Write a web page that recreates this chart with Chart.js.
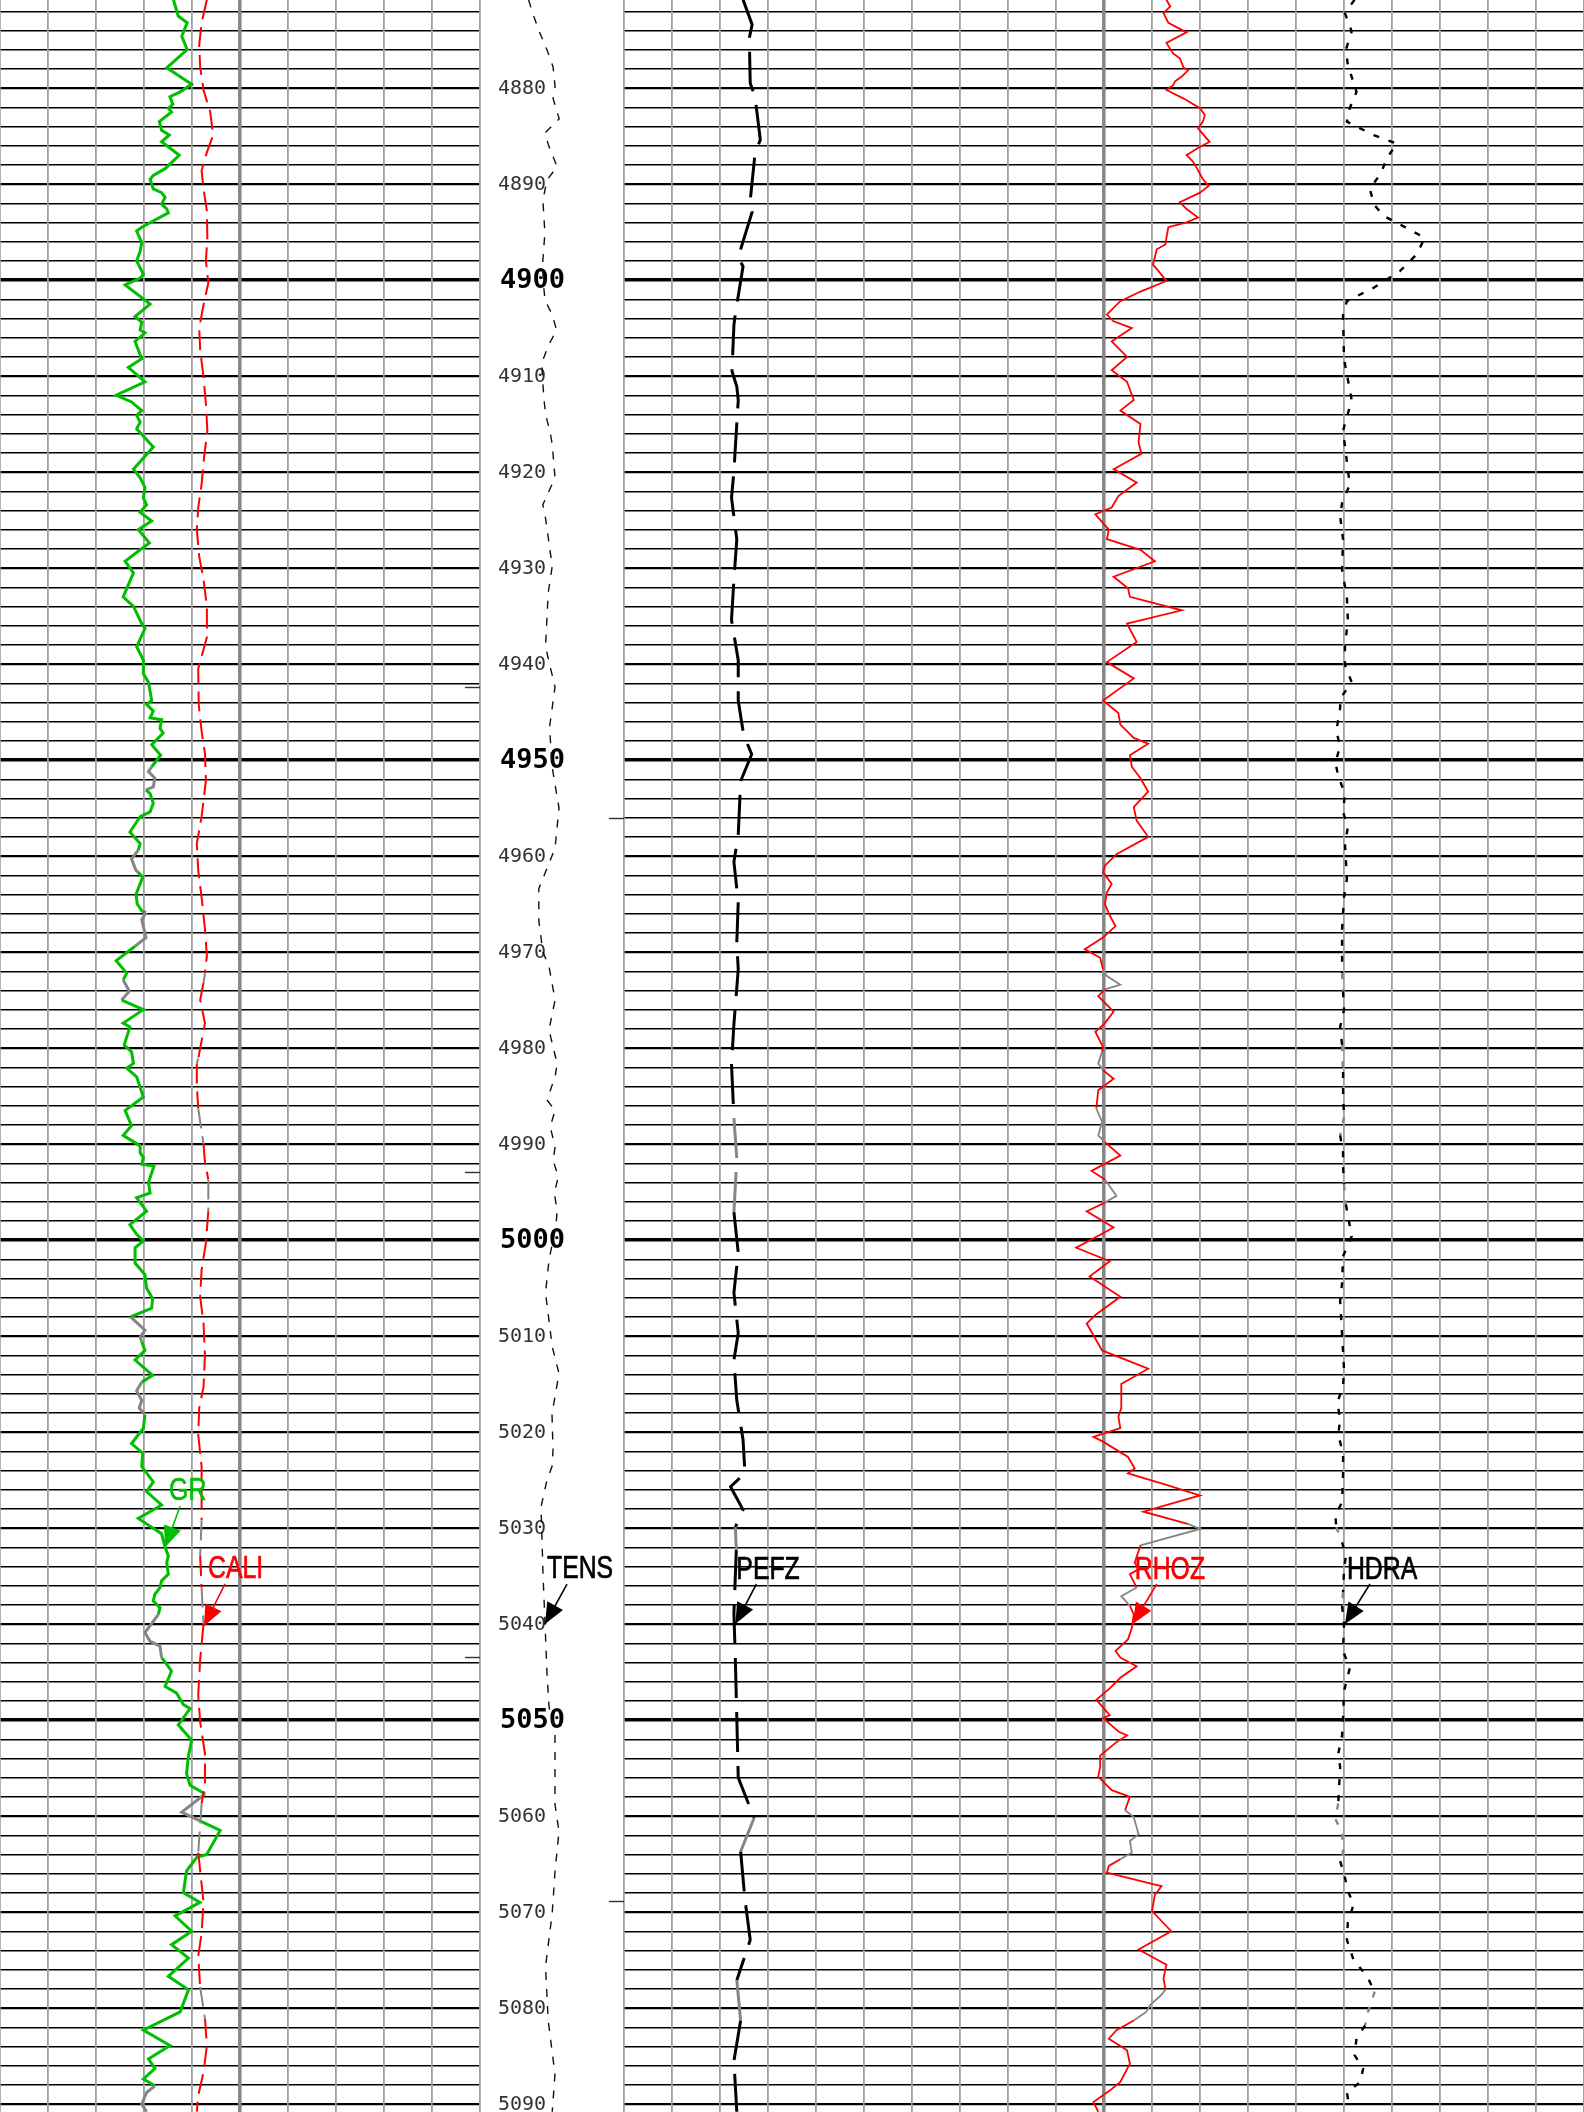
<!DOCTYPE html>
<html>
<head>
<meta charset="utf-8">
<script src="https://cdn.jsdelivr.net/npm/chart.js@4.4.1/dist/chart.umd.min.js"></script>
<style>
  html, body { margin: 0; padding: 0; background: #fff; }
  #wrap { position: relative; width: 1584px; height: 2112px; overflow: hidden; background: #fff; }
  canvas { position: absolute; top: 0; }
</style>
</head>
<body>
<div id="wrap">
  <canvas id="leftTrack" width="480" height="2112" style="left:0px"></canvas>
  <canvas id="depthTrack" width="144" height="2112" style="left:480px"></canvas>
  <canvas id="rightTrack" width="960" height="2112" style="left:624px"></canvas>
</div>
<script>
// depth window (ft)
const depthTop = 4870.83;
const depthBottom = 5090.83;
const depthLabels = [4880, 4890, 4900, 4910, 4920, 4930, 4940, 4950, 4960, 4970, 4980, 4990,
  5000, 5010, 5020, 5030, 5040, 5050, 5060, 5070, 5080, 5090];

// GR (gAPI)
const grDepth = [4870.8, 4872.5, 4873.2, 4874.6, 4876.0, 4877.9, 4879.6, 4880.4, 4880.9, 4881.7, 4882.1, 4882.5,
  4883.5, 4884.4, 4884.9, 4885.6, 4887.0, 4888.4, 4889.1, 4889.5, 4890.5, 4890.9, 4891.4, 4892.1, 4892.6, 4893.0,
  4894.5, 4894.9, 4896.1, 4897.0, 4898.0, 4899.4, 4899.8, 4900.5, 4902.5, 4903.8, 4904.4, 4905.2, 4905.5, 4906.4,
  4908.2, 4909.1, 4910.6, 4912.0, 4912.7, 4913.6, 4914.1, 4914.8, 4915.5, 4917.4, 4919.7, 4920.6, 4921.6, 4922.7,
  4923.4, 4924.2, 4925.1, 4926.0, 4927.4, 4928.1, 4929.3, 4930.5, 4933.0, 4934.0, 4935.8, 4936.3, 4938.2, 4939.6,
  4941.0, 4941.9, 4943.8, 4944.2, 4944.9, 4945.6, 4945.8, 4946.7, 4947.2, 4948.4, 4949.5, 4950.7, 4951.2, 4951.9,
  4952.8, 4953.1, 4953.5, 4954.5, 4955.4, 4955.9, 4957.5, 4958.7, 4959.4, 4960.3, 4961.5, 4961.7, 4962.2, 4964.0,
  4965.0, 4965.7, 4965.9, 4966.6, 4968.5, 4969.4, 4970.9, 4972.2, 4972.9, 4974.1, 4975.0, 4976.0, 4977.4, 4977.8,
  4979.7, 4980.4, 4981.6, 4982.1, 4983.0, 4985.1, 4986.5, 4988.1, 4989.1, 4990.2, 4990.9, 4991.4, 4992.1, 4992.3,
  4994.0, 4995.1, 4995.6, 4997.0, 4998.4, 4999.4, 5000.1, 5000.8, 5002.4, 5003.6, 5005.0, 5006.1, 5007.1, 5008.0,
  5009.4, 5010.1, 5010.6, 5011.5, 5012.5, 5014.1, 5014.8, 5015.7, 5016.7, 5017.5, 5018.2, 5019.6, 5021.2, 5022.2,
  5023.6, 5025.2, 5026.2, 5027.6, 5029.0, 5030.6, 5032.0, 5032.9, 5033.6, 5034.8, 5035.5, 5036.2, 5036.9, 5037.6,
  5038.3, 5039.0, 5040.9, 5041.8, 5042.3, 5043.5, 5044.2, 5044.9, 5046.5, 5047.2, 5048.4, 5048.8, 5050.5, 5052.1,
  5053.7, 5055.6, 5056.8, 5057.7, 5059.6, 5060.5, 5061.5, 5064.0, 5064.3, 5065.7, 5068.0, 5069.0, 5070.4, 5072.0,
  5073.4, 5074.8, 5076.7, 5078.1, 5080.4, 5082.3, 5083.9, 5085.3, 5086.3, 5087.4, 5088.1, 5088.8, 5090.0, 5090.8];
const grValue = [54.2, 55.7, 58.5, 56.8, 58.5, 52.1, 59.9, 56.3, 53.1, 54.0, 52.6, 53.6,
  49.8, 50.5, 52.9, 50.5, 56.0, 51.6, 47.9, 46.9, 47.9, 50.5, 51.6, 50.5, 52.1, 52.6,
  44.3, 42.7, 44.3, 43.8, 42.7, 44.8, 43.8, 39.1, 46.9, 42.2, 44.3, 43.8, 45.3, 42.2,
  44.3, 40.1, 45.3, 36.3, 41.1, 44.3, 42.7, 43.8, 42.7, 47.9, 41.7, 43.8, 45.3, 44.8,
  45.8, 43.8, 47.4, 43.2, 46.7, 43.8, 39.1, 41.7, 38.5, 41.7, 44.3, 45.3, 42.7, 44.8,
  44.8, 46.4, 47.4, 45.8, 47.9, 46.9, 50.5, 50.0, 51.0, 47.4, 50.2, 47.4, 46.4, 48.4,
  47.9, 45.6, 46.9, 47.9, 46.9, 43.8, 40.6, 43.8, 43.2, 41.1, 42.5, 43.2, 44.6, 42.5,
  42.9, 44.3, 45.6, 44.3, 45.6, 42.2, 36.3, 39.6, 38.5, 40.4, 38.0, 44.8, 38.5, 40.6,
  38.8, 41.1, 41.7, 39.6, 42.7, 44.8, 39.1, 41.1, 38.5, 43.8, 43.8, 44.8, 44.3, 48.1,
  46.4, 46.9, 42.7, 45.8, 40.6, 42.7, 44.8, 42.2, 42.2, 45.3, 45.8, 47.7, 47.4, 40.8,
  45.3, 43.8, 44.3, 45.3, 42.2, 47.7, 44.3, 42.7, 44.3, 43.5, 45.3, 44.8, 41.1, 44.6,
  44.3, 47.9, 45.8, 50.5, 43.2, 50.5, 51.6, 52.6, 52.1, 52.6, 50.5, 50.0, 48.4, 47.9,
  50.0, 49.5, 45.3, 46.9, 50.0, 50.5, 52.1, 53.6, 51.6, 55.2, 57.3, 59.4, 55.7, 59.9,
  58.9, 58.3, 59.4, 64.1, 56.8, 62.5, 68.8, 64.6, 61.5, 58.3, 57.3, 62.5, 54.7, 59.9,
  53.6, 58.9, 52.6, 58.9, 56.3, 44.8, 53.1, 46.4, 48.4, 44.8, 48.4, 45.8, 44.3, 45.8];

// CALI (in)
const caliDepth = [4870.8, 4873.2, 4875.5, 4877.8, 4880.2, 4882.5, 4884.9, 4886.7, 4888.6, 4890.5, 4892.8, 4895.6,
  4898.0, 4900.3, 4902.6, 4905.0, 4907.3, 4910.1, 4912.9, 4915.7, 4918.5, 4921.3, 4923.7, 4926.0, 4928.8, 4931.2,
  4934.0, 4937.2, 4940.5, 4944.2, 4947.0, 4949.3, 4952.1, 4955.9, 4958.7, 4961.5, 4964.3, 4967.6, 4970.4, 4972.2,
  4973.2, 4975.0, 4977.4, 4981.1, 4981.6, 4983.9, 4986.3, 4990.0, 4991.9, 4993.7, 4997.0, 5000.3, 5003.1, 5005.9,
  5008.7, 5012.0, 5015.3, 5017.5, 5020.3, 5023.6, 5026.4, 5029.2, 5032.9, 5036.2, 5040.0, 5043.7, 5047.4, 5050.2,
  5053.5, 5056.8, 5058.7, 5061.0, 5063.8, 5067.1, 5069.0, 5072.2, 5074.6, 5077.8, 5081.1, 5083.9, 5086.7, 5089.1, 5090.8];
const caliValue = [10.31, 10.20, 10.15, 10.17, 10.24, 10.38, 10.44, 10.31, 10.20, 10.24, 10.31, 10.32,
  10.29, 10.34, 10.24, 10.15, 10.17, 10.24, 10.29, 10.32, 10.25, 10.20, 10.13, 10.10, 10.15, 10.24,
  10.31, 10.31, 10.13, 10.14, 10.20, 10.27, 10.29, 10.20, 10.10, 10.13, 10.20, 10.27, 10.31, 10.27,
  10.24, 10.17, 10.27, 10.13, 10.10, 10.10, 10.13, 10.24, 10.27, 10.34, 10.34, 10.29, 10.20, 10.17,
  10.24, 10.27, 10.24, 10.15, 10.13, 10.20, 10.20, 10.20, 10.17, 10.20, 10.24, 10.17, 10.13, 10.17,
  10.27, 10.27, 10.20, 10.17, 10.13, 10.20, 10.24, 10.20, 10.13, 10.17, 10.27, 10.31, 10.24, 10.13, 10.10];

// TENS (lbf)
const tensDepth = [4870.8, 4872.2, 4874.0, 4876.0, 4877.8, 4879.9, 4881.1, 4883.2, 4884.7, 4886.1, 4888.2, 4889.6,
  4891.7, 4895.1, 4897.9, 4900.0, 4902.1, 4903.5, 4905.2, 4906.9, 4908.7, 4910.4, 4912.5, 4914.2, 4915.8, 4917.1,
  4920.6, 4923.4, 4924.8, 4929.8, 4932.6, 4938.2, 4942.4, 4946.6, 4950.8, 4955.0, 4959.2, 4963.4, 4966.7, 4970.0,
  4971.5, 4975.0, 4976.0, 4978.1, 4979.9, 4981.6, 4983.0, 4985.4, 4986.5, 4988.2, 4990.3, 4991.7, 4993.4, 4995.1,
  4996.9, 4998.6, 5002.0, 5005.5, 5011.1, 5013.9, 5018.1, 5021.9, 5023.6, 5025.0, 5027.8, 5031.2, 5034.7, 5039.9,
  5045.1, 5048.6, 5051.4, 5058.8, 5061.6, 5065.8, 5070.1, 5075.7, 5081.3, 5086.9, 5090.8];
const tensValue = [1687, 1830, 2042, 2323, 2538, 2608, 2538, 2750, 2253, 2396, 2677, 2323,
  2184, 2253, 2184, 2190, 2257, 2489, 2662, 2361, 2141, 2176, 2222, 2292, 2431, 2508,
  2604, 2182, 2275, 2508, 2368, 2275, 2604, 2415, 2508, 2743, 2604, 2042, 2041, 2183,
  2396, 2608, 2538, 2396, 2538, 2678, 2608, 2324, 2608, 2437, 2608, 2538, 2720, 2580,
  2678, 2636, 2400, 2275, 2508, 2743, 2500, 2535, 2500, 2326, 2118, 2153, 2187, 2257,
  2326, 2396, 2604, 2604, 2743, 2604, 2508, 2275, 2368, 2604, 2508];

// PEFZ (b/e)
const pefzDepth = [4870.8, 4873.4, 4874.8, 4879.5, 4880.9, 4885.4, 4886.8, 4891.7, 4892.9, 4897.6, 4898.6, 4903.5,
  4904.7, 4909.5, 4911.1, 4912.5, 4919.9, 4922.7, 4927.0, 4931.2, 4935.4, 4939.6, 4943.8, 4947.3, 4949.4, 4952.2,
  4957.8, 4960.6, 4964.8, 4969.0, 4971.8, 4977.5, 4981.7, 4987.3, 4991.5, 4997.1, 5001.3, 5005.5, 5009.7, 5012.5,
  5016.7, 5020.8, 5024.3, 5025.7, 5028.1, 5029.9, 5032.3, 5038.9, 5043.7, 5049.7, 5056.0, 5060.2, 5063.7, 5068.7,
  5072.9, 5077.1, 5081.3, 5085.5, 5090.8];
const pefzValue = [2.48, 2.67, 2.61, 2.63, 2.73, 2.84, 2.73, 2.63, 2.67, 2.38, 2.48, 2.32,
  2.29, 2.25, 2.35, 2.38, 2.29, 2.24, 2.35, 2.29, 2.24, 2.38, 2.38, 2.49, 2.66, 2.43,
  2.38, 2.29, 2.38, 2.35, 2.38, 2.29, 2.24, 2.29, 2.35, 2.29, 2.38, 2.29, 2.38, 2.29,
  2.35, 2.48, 2.52, 2.22, 2.48, 2.32, 2.34, 2.29, 2.32, 2.35, 2.38, 2.71, 2.43, 2.52,
  2.63, 2.35, 2.43, 2.29, 2.35];

// RHOZ (g/cm3)
const rhozDepth = [4870.8, 4871.5, 4872.2, 4873.2, 4874.2, 4875.3, 4876.4, 4876.9, 4877.9, 4878.1, 4878.8, 4879.3,
  4879.7, 4880.2, 4881.1, 4882.1, 4882.8, 4883.5, 4884.2, 4885.6, 4886.3, 4887.0, 4887.7, 4888.4, 4889.5, 4890.2,
  4890.9, 4891.9, 4892.6, 4893.5, 4894.0, 4894.5, 4895.6, 4896.3, 4896.8, 4898.4, 4899.1, 4900.1, 4901.2, 4902.2,
  4903.6, 4904.3, 4905.0, 4906.4, 4908.0, 4909.4, 4910.6, 4912.5, 4913.6, 4915.0, 4916.9, 4918.1, 4919.7, 4921.1,
  4922.5, 4923.7, 4924.4, 4926.0, 4927.0, 4928.1, 4929.3, 4930.9, 4932.1, 4933.0, 4934.4, 4935.8, 4937.7, 4939.8,
  4941.5, 4943.8, 4945.1, 4946.3, 4947.7, 4948.3, 4949.5, 4950.7, 4951.9, 4953.3, 4954.9, 4956.3, 4958.0, 4959.8,
  4961.0, 4961.7, 4962.9, 4963.8, 4965.0, 4966.2, 4967.3, 4968.5, 4969.7, 4970.6, 4971.8, 4972.5, 4973.4, 4973.9,
  4974.6, 4976.2, 4977.4, 4978.3, 4979.9, 4980.4, 4981.6, 4982.3, 4983.2, 4984.4, 4986.3, 4987.7, 4989.1, 4989.8,
  4991.2, 4992.8, 4993.7, 4995.4, 4996.1, 4997.0, 4998.7, 5000.8, 5002.2, 5003.8, 5005.9, 5007.8, 5008.7, 5011.5,
  5013.4, 5015.0, 5017.5, 5018.4, 5019.6, 5020.5, 5021.0, 5022.6, 5023.8, 5024.3, 5025.5, 5026.6, 5028.3, 5029.6,
  5030.1, 5031.8, 5033.6, 5034.3, 5034.8, 5036.2, 5037.1, 5038.1, 5039.0, 5040.4, 5041.6, 5042.8, 5043.5, 5044.4,
  5045.6, 5046.7, 5047.9, 5049.5, 5049.8, 5051.2, 5051.6, 5052.3, 5053.7, 5054.9, 5055.9, 5057.3, 5058.0, 5059.4,
  5060.1, 5061.9, 5062.6, 5063.8, 5064.5, 5065.2, 5065.9, 5067.1, 5067.3, 5068.2, 5069.9, 5072.0, 5073.9, 5075.5,
  5076.9, 5078.1, 5078.8, 5079.7, 5080.4, 5081.3, 5082.3, 5083.2, 5084.4, 5085.8, 5087.7, 5088.6, 5089.8, 5090.8];
const rhozValue = [2.515, 2.519, 2.512, 2.517, 2.536, 2.515, 2.522, 2.529, 2.533, 2.538, 2.531, 2.524,
  2.522, 2.515, 2.533, 2.550, 2.555, 2.553, 2.548, 2.560, 2.547, 2.536, 2.543, 2.547, 2.553, 2.559,
  2.550, 2.529, 2.536, 2.548, 2.536, 2.517, 2.515, 2.514, 2.505, 2.501, 2.507, 2.515, 2.488, 2.467,
  2.453, 2.460, 2.479, 2.458, 2.474, 2.458, 2.474, 2.481, 2.467, 2.488, 2.486, 2.489, 2.460, 2.484,
  2.465, 2.458, 2.441, 2.455, 2.453, 2.488, 2.503, 2.460, 2.475, 2.477, 2.531, 2.474, 2.484, 2.453,
  2.481, 2.449, 2.465, 2.467, 2.481, 2.496, 2.477, 2.479, 2.488, 2.496, 2.481, 2.484, 2.496, 2.463,
  2.451, 2.449, 2.458, 2.453, 2.451, 2.456, 2.462, 2.449, 2.430, 2.446, 2.449, 2.453, 2.467, 2.451,
  2.444, 2.460, 2.451, 2.441, 2.449, 2.448, 2.444, 2.449, 2.460, 2.444, 2.442, 2.448, 2.444, 2.451,
  2.467, 2.437, 2.451, 2.463, 2.451, 2.432, 2.460, 2.421, 2.456, 2.435, 2.467, 2.441, 2.432, 2.448,
  2.496, 2.468, 2.468, 2.465, 2.467, 2.439, 2.449, 2.475, 2.482, 2.475, 2.515, 2.550, 2.491, 2.538,
  2.550, 2.488, 2.482, 2.486, 2.477, 2.484, 2.468, 2.477, 2.481, 2.479, 2.475, 2.462, 2.467, 2.484,
  2.467, 2.456, 2.442, 2.456, 2.449, 2.465, 2.474, 2.463, 2.446, 2.446, 2.444, 2.458, 2.477, 2.472,
  2.481, 2.486, 2.477, 2.479, 2.467, 2.455, 2.453, 2.501, 2.510, 2.503, 2.500, 2.520, 2.486, 2.515,
  2.512, 2.514, 2.508, 2.498, 2.494, 2.481, 2.463, 2.455, 2.474, 2.477, 2.467, 2.456, 2.439, 2.444];

// HDRA (g/cm3)
const hdraDepth = [4870.8, 4872.2, 4874.1, 4876.0, 4877.6, 4880.4, 4882.1, 4883.5, 4884.9, 4885.8, 4887.4, 4888.8,
  4890.5, 4892.1, 4893.3, 4894.2, 4895.6, 4897.3, 4899.1, 4900.8, 4902.2, 4903.6, 4908.2, 4912.5, 4915.7, 4918.1,
  4921.3, 4923.2, 4924.6, 4927.0, 4930.2, 4933.0, 4935.4, 4938.2, 4940.1, 4941.9, 4943.6, 4944.6, 4947.0, 4948.6,
  4950.2, 4951.7, 4953.5, 4955.4, 4957.0, 4958.7, 4960.5, 4962.4, 4964.3, 4967.6, 4969.9, 4972.2, 4974.1, 4976.0,
  4977.8, 4979.7, 4982.5, 4984.4, 4987.2, 4989.1, 4990.9, 4992.3, 4994.2, 4996.3, 4999.6, 5001.7, 5004.5, 5006.4,
  5009.9, 5013.4, 5015.3, 5016.9, 5018.7, 5020.3, 5022.2, 5024.5, 5027.3, 5028.7, 5029.9, 5031.5, 5032.9, 5034.3,
  5036.7, 5038.1, 5040.0, 5042.8, 5044.6, 5047.0, 5049.8, 5051.6, 5053.5, 5054.9, 5056.8, 5058.7, 5060.3, 5061.7,
  5063.8, 5064.7, 5066.4, 5067.8, 5069.2, 5071.1, 5072.9, 5075.0, 5076.7, 5078.3, 5080.4, 5081.8, 5083.2, 5084.9,
  5086.3, 5087.7, 5088.8, 5090.5];
const hdraValue = [0.011, 0.001, 0.008, 0.002, 0.004, 0.013, 0.006, 0.003, 0.031, 0.055, 0.044, 0.039,
  0.027, 0.031, 0.041, 0.058, 0.084, 0.076, 0.058, 0.031, 0.003, -0.001, 0.000, 0.008, -0.001, 0.002,
  0.006, -0.002, -0.004, -0.001, -0.002, 0.003, 0.004, 0.001, 0.001, 0.008, -0.004, -0.004, -0.008, -0.004,
  -0.009, -0.006, 0.001, -0.001, 0.004, 0.001, 0.002, 0.003, 0.000, -0.002, -0.002, -0.002, -0.001, 0.000,
  -0.004, -0.002, -0.001, -0.001, 0.000, -0.004, -0.001, -0.001, 0.000, 0.002, 0.008, -0.001, -0.002, -0.004,
  -0.002, 0.000, -0.001, -0.007, -0.004, -0.006, -0.001, -0.001, -0.002, -0.009, -0.008, -0.002, 0.002, 0.000,
  -0.001, -0.002, 0.000, -0.001, 0.006, 0.000, -0.001, -0.002, -0.006, -0.004, -0.005, -0.006, -0.009, -0.002,
  -0.001, -0.004, 0.001, 0.004, 0.010, 0.004, 0.003, 0.010, 0.024, 0.032, 0.025, 0.022, 0.013, 0.011,
  0.020, 0.017, 0.003, 0.006];

// depth intervals drawn in grey (overlap / flagged)
const grGray = [[4950.8, 4953.1], [4959.3, 4961.6], [4965.8, 4969.4], [4972.8, 4975.0], [5008.0, 5011.0],
  [5014.5, 5018.1], [5039.0, 5043.5], [5057.7, 5060.5], [5087.9, 5090.9]];
const densGray = [[4971.9, 4973.9], [4980.4, 4982.3], [4986.6, 4989.8], [4993.5, 4995.8], [5029.4, 5031.8],
  [5035.8, 5038.1], [5059.4, 5064.5], [5078.1, 5081.5]];

// short time marks on the depth track borders
const leftBorderMarks = [4942.4, 4992.9, 5043.4];
const rightBorderMarks = [4956.0, 5068.9];

const GRAY = '#858585';
const GREEN = '#00bf00';
const RED = '#ff0000';

function pts(depths, values) {
  return depths.map((d, i) => ({ x: values[i], y: d }));
}

function grayIn(ranges) {
  return ctx => {
    const mid = (ctx.p0.parsed.y + ctx.p1.parsed.y) / 2;
    return ranges.some(r => mid >= r[0] && mid <= r[1]) ? GRAY : undefined;
  };
}

function curve(label, depths, values, axis, color, width, dash, gray) {
  return {
    label: label,
    data: pts(depths, values),
    xAxisID: axis,
    yAxisID: 'y',
    showLine: true,
    borderColor: color,
    borderWidth: width,
    borderDash: dash,
    pointRadius: 0,
    tension: 0,
    segment: gray ? { borderColor: grayIn(gray) } : undefined
  };
}

const gridDepths = [];
for (let d = 4872; d <= 5090; d += 2) gridDepths.push(d);

function depthGridAxis() {
  return {
    type: 'linear', axis: 'y', position: 'left', reverse: true,
    min: depthTop, max: depthBottom,
    afterBuildTicks: s => { s.ticks = gridDepths.map(v => ({ value: v })); },
    ticks: { display: false },
    border: { display: false },
    grid: {
      drawTicks: false, z: -1, color: '#000',
      lineWidth: c => c.tick.value % 50 === 0 ? 3.4 : (c.tick.value % 10 === 0 ? 2.2 : 1.4)
    }
  };
}

function columnAxis(n) {
  return {
    type: 'linear', axis: 'x', position: 'bottom', min: 0, max: n,
    afterBuildTicks: s => { const t = []; for (let i = 0; i <= n; i++) t.push({ value: i }); s.ticks = t; },
    ticks: { display: false },
    border: { display: false },
    grid: {
      drawTicks: false, z: 0,
      color: c => c.tick.value === n / 2 ? '#888' : '#a0a0a0',
      lineWidth: c => c.tick.value === n / 2 ? 3.6 : 1.8
    }
  };
}

function hidden(min, max) {
  return { type: 'linear', axis: 'x', display: false, min: min, max: max };
}

// curve name labels with arrows, placed at the tip (curve value, depth)
const arrowLabels = {
  id: 'arrowLabels',
  afterDatasetsDraw(chart, args, opts) {
    const ctx = chart.ctx;
    (opts.items || []).forEach(a => {
      const tx = chart.scales[a.axis].getPixelForValue(a.value);
      const ty = chart.scales.y.getPixelForValue(a.depth);
      const sx = tx + a.dx, sy = ty + a.dy;
      ctx.save();
      ctx.strokeStyle = a.color;
      ctx.fillStyle = a.color;
      ctx.lineWidth = 1.6;
      ctx.beginPath();
      ctx.moveTo(sx, sy);
      ctx.lineTo(tx, ty);
      ctx.stroke();
      const ang = Math.atan2(ty - sy, tx - sx);
      const L = 21, W = 9;
      const bx = tx - L * Math.cos(ang), by = ty - L * Math.sin(ang);
      ctx.beginPath();
      ctx.moveTo(tx, ty);
      ctx.lineTo(bx + W * Math.sin(ang), by - W * Math.cos(ang));
      ctx.lineTo(bx - W * Math.sin(ang), by + W * Math.cos(ang));
      ctx.closePath();
      ctx.fill();
      // narrow face: Liberation Sans squeezed horizontally
      ctx.translate(tx + a.tx, ty + a.ty);
      ctx.scale(0.8, 1);
      ctx.font = '31px "Liberation Sans", Arial, sans-serif';
      ctx.textBaseline = 'alphabetic';
      ctx.textAlign = 'left';
      ctx.lineWidth = 0.7;
      ctx.fillText(a.text, 0, 0);
      ctx.strokeText(a.text, 0, 0);
      ctx.restore();
    });
  }
};

// depth numbers in the depth track
const depthNumbers = {
  id: 'depthNumbers',
  beforeDatasetsDraw(chart) {
    const ctx = chart.ctx;
    const y = chart.scales.y;
    ctx.save();
    ctx.textBaseline = 'middle';
    ctx.textAlign = 'left';
    depthLabels.forEach(d => {
      const major = d % 50 === 0;
      ctx.font = major ? 'bold 27px "DejaVu Sans Mono", monospace' : '20px "DejaVu Sans Mono", monospace';
      ctx.fillStyle = major ? '#000' : '#333';
      ctx.fillText(String(d), major ? 20 : 18, y.getPixelForValue(d) + 1);
    });
    ctx.restore();
  }
};

// small horizontal ticks on a canvas edge at given depths
const borderMarks = {
  id: 'borderMarks',
  afterDatasetsDraw(chart, args, opts) {
    const ctx = chart.ctx;
    const y = chart.scales.y;
    const area = chart.chartArea;
    ctx.save();
    ctx.strokeStyle = '#333';
    ctx.lineWidth = 1.4;
    (opts.depths || []).forEach(d => {
      const py = Math.round(y.getPixelForValue(d)) + 0.5;
      const x0 = opts.side === 'right' ? area.right - 15 : area.left;
      ctx.beginPath();
      ctx.moveTo(x0, py);
      ctx.lineTo(x0 + 15, py);
      ctx.stroke();
    });
    ctx.restore();
  }
};

const base = {
  responsive: false,
  animation: false,
  events: [],
  layout: { padding: 0 },
  plugins: { legend: { display: false }, tooltip: { enabled: false } }
};

// left track: GR + CALI
new Chart(document.getElementById('leftTrack'), {
  type: 'scatter',
  data: {
    datasets: [
      curve('CALI', caliDepth, caliValue, 'xCALI', RED, 2, [20, 8], densGray),
      curve('GR', grDepth, grValue, 'xGR', GREEN, 3, [], grGray)
    ]
  },
  options: Object.assign({}, base, {
    scales: {
      y: depthGridAxis(),
      gx: columnAxis(10),
      xGR: hidden(0, 150),
      xCALI: hidden(6, 16)
    },
    plugins: Object.assign({}, base.plugins, {
      arrowLabels: { items: [
        { text: 'GR', color: GREEN, axis: 'xGR', value: 51.6, depth: 5032.0, dx: 15, dy: -41, tx: 4, ty: -47 },
        { text: 'CALI', color: RED, axis: 'xCALI', value: 10.25, depth: 5040.2, dx: 21, dy: -42, tx: 4, ty: -48 }
      ] },
      borderMarks: { side: 'right', depths: leftBorderMarks }
    })
  }),
  plugins: [arrowLabels, borderMarks]
});

// depth track: TENS + depth numbers
new Chart(document.getElementById('depthTrack'), {
  type: 'scatter',
  data: {
    datasets: [
      curve('TENS', tensDepth, tensValue, 'xTENS', '#111', 1.4, [8, 9], null)
    ]
  },
  options: Object.assign({}, base, {
    scales: {
      y: { type: 'linear', axis: 'y', display: false, reverse: true, min: depthTop, max: depthBottom },
      gx: Object.assign(columnAxis(1), { grid: { drawTicks: false, color: '#a0a0a0', lineWidth: 1.8 } }),
      xTENS: hidden(0, 5000)
    },
    plugins: Object.assign({}, base.plugins, {
      arrowLabels: { items: [
        { text: 'TENS', color: '#000', axis: 'xTENS', value: 2257, depth: 5040.0, dx: 22, dy: -40, tx: 2, ty: -46 }
      ] },
      borderMarks: { side: 'right', depths: rightBorderMarks }
    })
  }),
  plugins: [depthNumbers, arrowLabels, borderMarks]
});

// right track: PEFZ, RHOZ, HDRA
new Chart(document.getElementById('rightTrack'), {
  type: 'scatter',
  data: {
    datasets: [
      curve('HDRA', hdraDepth, hdraValue, 'xHDRA', '#000', 2.4, [6, 10], densGray),
      curve('PEFZ', pefzDepth, pefzValue, 'xPEFZ', '#000', 3, [40, 14], densGray),
      curve('RHOZ', rhozDepth, rhozValue, 'xRHOZ', RED, 1.8, [], densGray)
    ]
  },
  options: Object.assign({}, base, {
    scales: {
      y: depthGridAxis(),
      gx: columnAxis(20),
      xPEFZ: hidden(0, 20),
      xRHOZ: hidden(1.95, 2.95),
      xHDRA: hidden(-0.75, 0.25)
    },
    plugins: Object.assign({}, base.plugins, {
      arrowLabels: { items: [
        { text: 'PEFZ', color: '#000', axis: 'xPEFZ', value: 2.32, depth: 5040.0, dx: 21, dy: -40, tx: 1, ty: -45 },
        { text: 'RHOZ', color: RED, axis: 'xRHOZ', value: 2.480, depth: 5040.0, dx: 24, dy: -40, tx: 2, ty: -45 },
        { text: 'HDRA', color: '#000', axis: 'xHDRA', value: 0.001, depth: 5040.0, dx: 25, dy: -40, tx: 2, ty: -45 }
      ] }
    })
  }),
  plugins: [arrowLabels]
});
</script>
</body>
</html>
